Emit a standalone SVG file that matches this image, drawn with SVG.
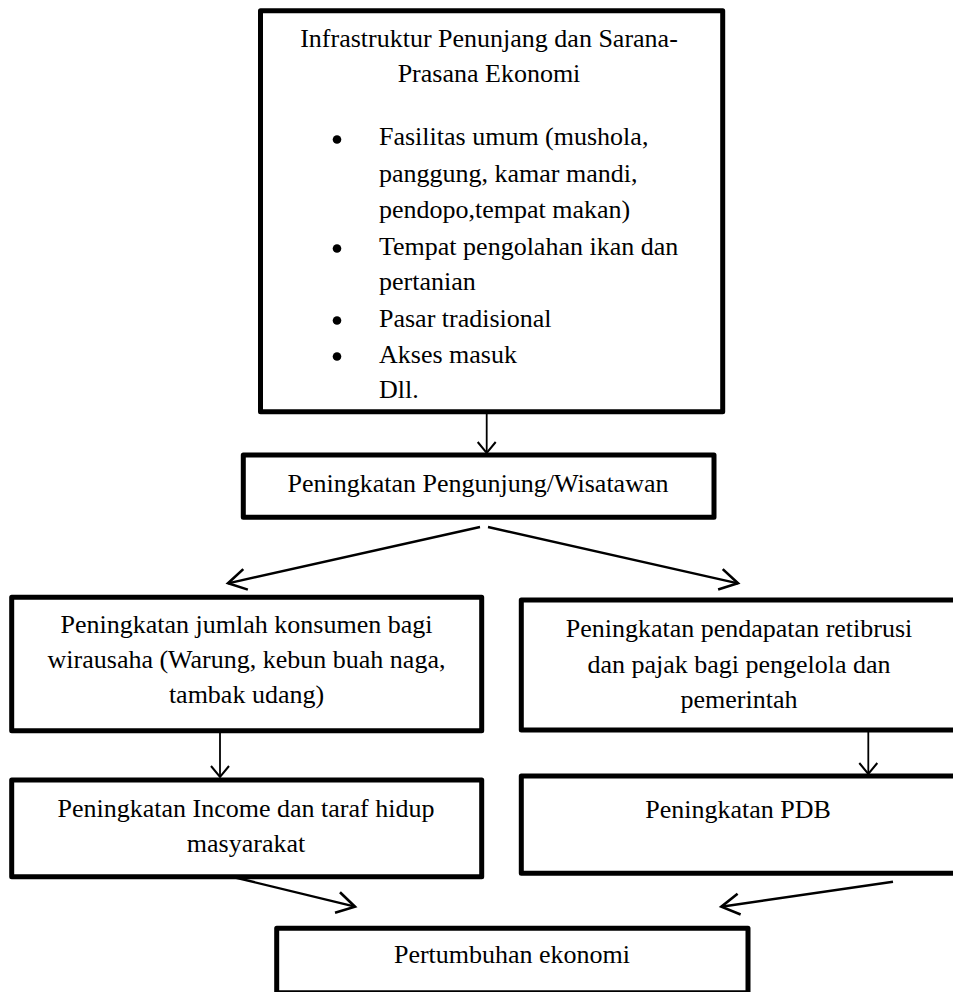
<svg xmlns="http://www.w3.org/2000/svg" width="953" height="992" viewBox="0 0 953 992">
  <style>
    .box { fill: #fff; stroke: #000; stroke-width: 5; stroke-linejoin: round; }
    .lbl { font-family: "Liberation Serif", "Times New Roman", serif; font-size: 26px; fill: #000; }
    .mid { text-anchor: middle; }
    .link { fill: none; stroke: #000; stroke-width: 2.4; }
    .link-v { fill: none; stroke: #000; stroke-width: 1.8; }
  </style>
  <defs>
    <marker id="head" markerUnits="userSpaceOnUse" viewBox="-22 -14 24 28" refX="0" refY="0" markerWidth="24" markerHeight="28" orient="auto" overflow="visible">
      <path d="M-18,-10.5 L0,0 L-18,10.5" fill="none" stroke="#000" stroke-width="2.6" stroke-linejoin="miter"/>
    </marker>
    <marker id="head-sm" markerUnits="userSpaceOnUse" viewBox="-14 -12 16 24" refX="0" refY="0" markerWidth="16" markerHeight="24" orient="auto" overflow="visible">
      <path d="M-11,-9 L0,0 L-11,9" fill="none" stroke="#000" stroke-width="2"/>
    </marker>
  </defs>

  <rect width="953" height="992" fill="#fff"/>

  <!-- connectors -->
  <g id="connectors">
    <line class="link-v" x1="486.7" y1="412" x2="486.7" y2="453" marker-end="url(#head-sm)"/>
    <line class="link" x1="480" y1="527" x2="228" y2="583.3" marker-end="url(#head)"/>
    <line class="link" x1="488" y1="527" x2="738" y2="583.3" marker-end="url(#head)"/>
    <line class="link-v" x1="220" y1="731" x2="220" y2="777" marker-end="url(#head-sm)"/>
    <line class="link-v" x1="868.3" y1="730" x2="868.3" y2="774" marker-end="url(#head-sm)"/>
    <line class="link" x1="233" y1="877" x2="355" y2="906.7" marker-end="url(#head)"/>
    <line class="link" x1="893" y1="881.7" x2="721.3" y2="906.7" marker-end="url(#head)"/>
  </g>

  <!-- supporting infrastructure -->
  <g id="infrastruktur">
    <rect class="box" x="260.5" y="10.8" width="462.2" height="400.9"/>
    <text class="lbl mid" x="489" y="47">Infrastruktur Penunjang dan Sarana-</text>
    <text class="lbl mid" x="489" y="82">Prasana Ekonomi</text>
    <g fill="#000">
      <circle cx="337" cy="139.5" r="4.3"/>
      <circle cx="337" cy="248.5" r="4.3"/>
      <circle cx="337" cy="320.5" r="4.3"/>
      <circle cx="337" cy="356.5" r="4.3"/>
    </g>
    <text class="lbl" x="379" y="145">Fasilitas umum (mushola,</text>
    <text class="lbl" x="379" y="182">panggung, kamar mandi,</text>
    <text class="lbl" x="379" y="218">pendopo,tempat makan)</text>
    <text class="lbl" x="379" y="255">Tempat pengolahan ikan dan</text>
    <text class="lbl" x="379" y="290">pertanian</text>
    <text class="lbl" x="379" y="327">Pasar tradisional</text>
    <text class="lbl" x="379" y="363">Akses masuk</text>
    <text class="lbl" x="379" y="398">Dll.</text>
  </g>

  <!-- visitors -->
  <g id="pengunjung">
    <rect class="box" x="243.3" y="455" width="470.7" height="62.3"/>
    <text class="lbl mid" x="478" y="492">Peningkatan Pengunjung/Wisatawan</text>
  </g>

  <!-- entrepreneurs -->
  <g id="konsumen">
    <rect class="box" x="11.7" y="597.3" width="470" height="133.4"/>
    <text class="lbl mid" x="246.5" y="633">Peningkatan jumlah konsumen bagi</text>
    <text class="lbl mid" x="246.5" y="668">wirausaha (Warung, kebun buah naga,</text>
    <text class="lbl mid" x="246.5" y="703">tambak udang)</text>
  </g>

  <!-- levies and taxes -->
  <g id="retribusi">
    <rect class="box" x="521.3" y="600" width="440" height="130"/>
    <text class="lbl mid" x="739" y="637">Peningkatan pendapatan retibrusi</text>
    <text class="lbl mid" x="739" y="673">dan pajak bagi pengelola dan</text>
    <text class="lbl mid" x="739" y="708">pemerintah</text>
  </g>

  <!-- household income -->
  <g id="income">
    <rect class="box" x="11.7" y="780" width="470" height="96.7"/>
    <text class="lbl mid" x="246" y="817">Peningkatan Income dan taraf hidup</text>
    <text class="lbl mid" x="246" y="852">masyarakat</text>
  </g>

  <!-- GDP -->
  <g id="pdb">
    <rect class="box" x="521.3" y="776" width="440" height="97.3"/>
    <text class="lbl mid" x="738" y="818">Peningkatan PDB</text>
  </g>

  <!-- economic growth -->
  <g id="pertumbuhan">
    <rect class="box" x="276.7" y="928.3" width="471.3" height="64.5"/>
    <text class="lbl mid" x="512" y="963">Pertumbuhan ekonomi</text>
  </g>
</svg>
